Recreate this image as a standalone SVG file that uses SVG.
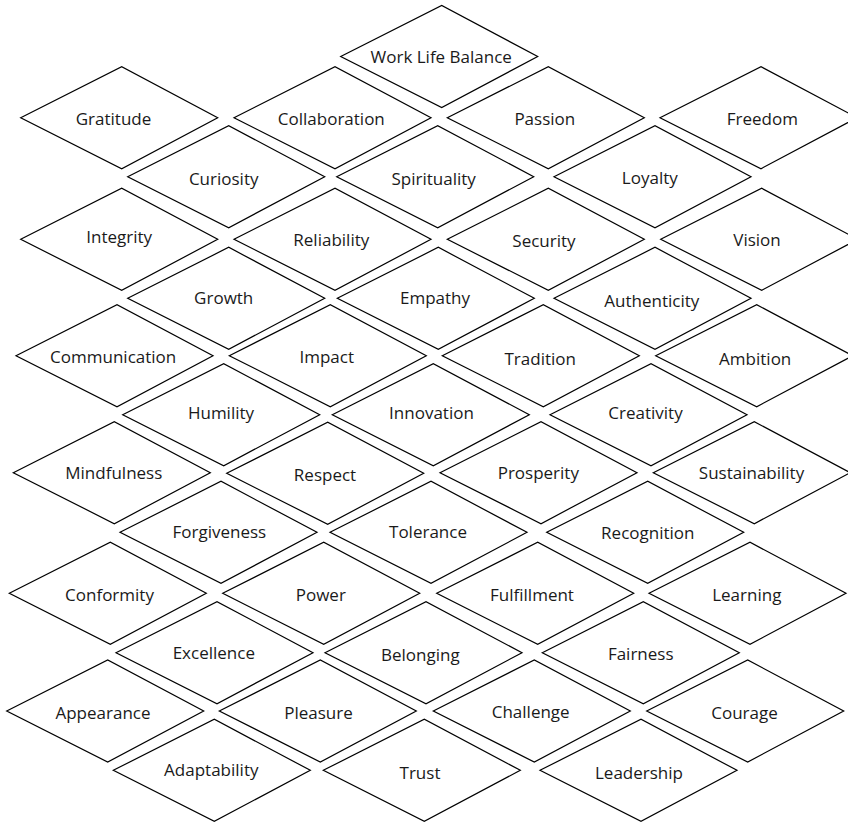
<svg xmlns="http://www.w3.org/2000/svg" xmlns:xlink="http://www.w3.org/1999/xlink" width="848" height="822" viewBox="0 0 848 822">
<style>
.d{fill:#fff;stroke:#000;stroke-width:1.2;stroke-linejoin:miter}
text{font-family:"Open Sans","Noto Sans","Liberation Sans",sans-serif;font-size:17px;fill:#1a1a1a;text-anchor:middle}
</style>
<defs>
<polygon id="dia" points="0,0 101,-51 197,0 101,51"/>
</defs>
<rect width="848" height="822" fill="#fff"/>
<g id="connectors"/>
<g id="n-wlb"><use href="#dia" class="d" x="340.7" y="56.5"/><text x="441.2" y="63">Work Life Balance</text></g>
<g id="n-gratitude"><use href="#dia" class="d" x="20.7" y="117.7"/><text x="113.5" y="124.5">Gratitude</text></g>
<g id="n-collaboration"><use href="#dia" class="d" x="234" y="117.7"/><text x="331.3" y="124.5">Collaboration</text></g>
<g id="n-passion"><use href="#dia" class="d" x="447.3" y="117.7"/><text x="544.8" y="125">Passion</text></g>
<g id="n-freedom"><use href="#dia" class="d" x="660" y="117.7"/><text x="762.3" y="124.8">Freedom</text></g>
<g id="n-curiosity"><use href="#dia" class="d" x="127.7" y="176.7"/><text x="223.7" y="184.5">Curiosity</text></g>
<g id="n-spirituality"><use href="#dia" class="d" x="336.7" y="176.7"/><text x="433.7" y="184.5">Spirituality</text></g>
<g id="n-loyalty"><use href="#dia" class="d" x="554" y="176.7"/><text x="649.8" y="183.5">Loyalty</text></g>
<g id="n-integrity"><use href="#dia" class="d" x="20.7" y="239.3"/><text x="119.2" y="243">Integrity</text></g>
<g id="n-reliability"><use href="#dia" class="d" x="234" y="239.3"/><text x="331.3" y="245.8">Reliability</text></g>
<g id="n-security"><use href="#dia" class="d" x="447.3" y="239.3"/><text x="544" y="247">Security</text></g>
<g id="n-vision"><use href="#dia" class="d" x="660.7" y="239.3"/><text x="757" y="245.8">Vision</text></g>
<g id="n-growth"><use href="#dia" class="d" x="127.7" y="298.3"/><text x="223.7" y="304">Growth</text></g>
<g id="n-empathy"><use href="#dia" class="d" x="337.3" y="298.3"/><text x="435" y="303.5">Empathy</text></g>
<g id="n-authenticity"><use href="#dia" class="d" x="554" y="298.3"/><text x="651.8" y="306.5">Authenticity</text></g>
<g id="n-communication"><use href="#dia" class="d" x="16" y="355.7"/><text x="113.2" y="363">Communication</text></g>
<g id="n-impact"><use href="#dia" class="d" x="229.3" y="355.7"/><text x="326.7" y="363">Impact</text></g>
<g id="n-tradition"><use href="#dia" class="d" x="442.3" y="355.7"/><text x="540.2" y="364.8">Tradition</text></g>
<g id="n-ambition"><use href="#dia" class="d" x="655.7" y="355.7"/><text x="755.2" y="364.8">Ambition</text></g>
<g id="n-humility"><use href="#dia" class="d" x="122.7" y="414.7"/><text x="221" y="418.5">Humility</text></g>
<g id="n-innovation"><use href="#dia" class="d" x="332.3" y="414.7"/><text x="431.5" y="418.5">Innovation</text></g>
<g id="n-creativity"><use href="#dia" class="d" x="550" y="414.7"/><text x="645.5" y="418.5">Creativity</text></g>
<g id="n-mindfulness"><use href="#dia" class="d" x="13.3" y="472.7"/><text x="113.8" y="478.8">Mindfulness</text></g>
<g id="n-respect"><use href="#dia" class="d" x="226.7" y="473.3"/><text x="325" y="480.8">Respect</text></g>
<g id="n-prosperity"><use href="#dia" class="d" x="440" y="472.7"/><text x="538.3" y="479">Prosperity</text></g>
<g id="n-sustainability"><use href="#dia" class="d" x="653.3" y="472.7"/><text x="751.5" y="479">Sustainability</text></g>
<g id="n-forgiveness"><use href="#dia" class="d" x="120" y="532.3"/><text x="219.3" y="538">Forgiveness</text></g>
<g id="n-tolerance"><use href="#dia" class="d" x="330" y="532.3"/><text x="428" y="537.5">Tolerance</text></g>
<g id="n-recognition"><use href="#dia" class="d" x="546.7" y="532.3"/><text x="647.8" y="539">Recognition</text></g>
<g id="n-conformity"><use href="#dia" class="d" x="9.3" y="593.3"/><text x="109.5" y="600.8">Conformity</text></g>
<g id="n-power"><use href="#dia" class="d" x="222.7" y="593.3"/><text x="320.8" y="600.8">Power</text></g>
<g id="n-fulfillment"><use href="#dia" class="d" x="436.7" y="593.3"/><text x="532" y="600.8">Fulfillment</text></g>
<g id="n-learning"><use href="#dia" class="d" x="649" y="593.3"/><text x="746.8" y="600.8">Learning</text></g>
<g id="n-excellence"><use href="#dia" class="d" x="116" y="652.7"/><text x="213.8" y="658.5">Excellence</text></g>
<g id="n-belonging"><use href="#dia" class="d" x="325" y="652.7"/><text x="420.3" y="660.5">Belonging</text></g>
<g id="n-fairness"><use href="#dia" class="d" x="542.3" y="652.7"/><text x="640.7" y="660">Fairness</text></g>
<g id="n-appearance"><use href="#dia" class="d" x="6.7" y="711"/><text x="103" y="718.5">Appearance</text></g>
<g id="n-pleasure"><use href="#dia" class="d" x="219.3" y="711"/><text x="318.5" y="718.5">Pleasure</text></g>
<g id="n-challenge"><use href="#dia" class="d" x="433.3" y="711"/><text x="530.7" y="717.8">Challenge</text></g>
<g id="n-courage"><use href="#dia" class="d" x="646.7" y="711"/><text x="744.5" y="718.5">Courage</text></g>
<g id="n-adaptability"><use href="#dia" class="d" x="113.3" y="770.3"/><text x="211.3" y="776">Adaptability</text></g>
<g id="n-trust"><use href="#dia" class="d" x="323.3" y="770.3"/><text x="420" y="778.5">Trust</text></g>
<g id="n-leadership"><use href="#dia" class="d" x="540" y="770.3"/><text x="639" y="778.5">Leadership</text></g>
</svg>
